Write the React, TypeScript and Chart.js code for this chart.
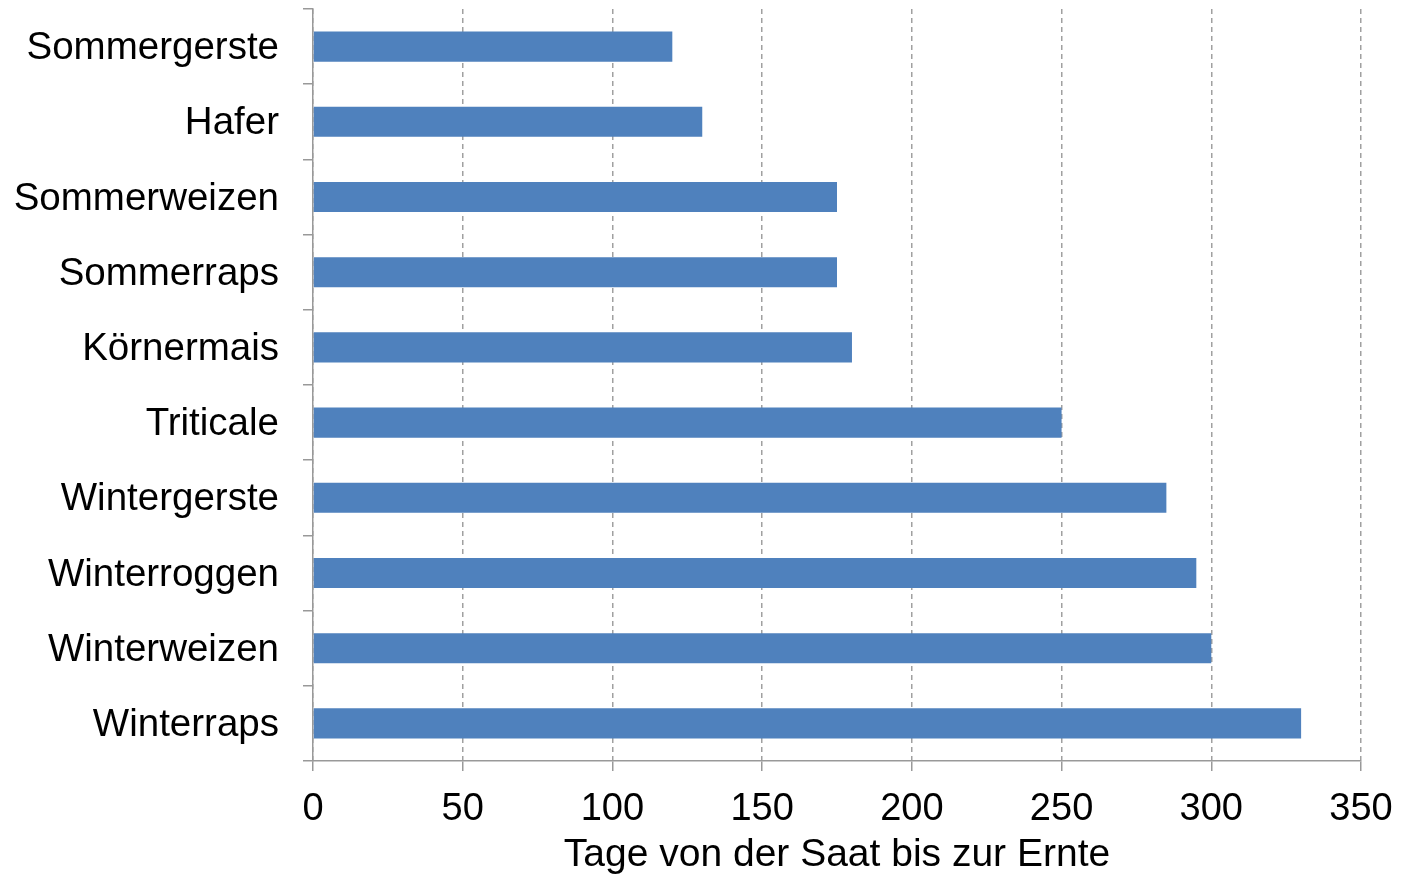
import React, { useEffect, useRef } from "react";
import { Chart, registerables } from "chart.js";

Chart.register(...registerables);

const categories = [
  "Sommergerste",
  "Hafer",
  "Sommerweizen",
  "Sommerraps",
  "Körnermais",
  "Triticale",
  "Wintergerste",
  "Winterroggen",
  "Winterweizen",
  "Winterraps",
];
const days = [120, 130, 175, 175, 180, 250, 285, 295, 300, 330];
const xTitle = "Tage von der Saat bis zur Ernte";
const xMin = 0;
const xMax = 350;
const xStep = 50;

const FONT = "'Liberation Sans', Arial, sans-serif";

export default function App() {
  const ref = useRef<HTMLCanvasElement | null>(null);

  useEffect(() => {
    if (!ref.current) return;
    const chart = new Chart(ref.current, {
      type: "bar",
      data: {
        labels: categories,
        datasets: [
          {
            data: days,
            backgroundColor: "#4F81BD",
            borderWidth: 0,
            categoryPercentage: 1,
            barPercentage: 0.4,
          },
        ],
      },
      options: {
        indexAxis: "y",
        animation: false,
        responsive: true,
        maintainAspectRatio: false,
        layout: { padding: { top: 9, right: 40, left: 0, bottom: 0 } },
        plugins: { legend: { display: false }, tooltip: { enabled: false } },
        scales: {
          x: {
            min: xMin,
            max: xMax,
            ticks: {
              stepSize: xStep,
              color: "#000",
              font: { family: FONT, size: 38 },
              padding: 16,
              maxRotation: 0,
            },
            grid: {
              color: "#a0a0a0",
              lineWidth: 1.5,
              tickLength: 10,
              tickColor: "#999999",
              tickWidth: 1.5,
              tickBorderDash: [],
            },
            border: { display: true, color: "#999999", width: 1.5, dash: [5, 4] },
            title: {
              display: true,
              text: xTitle,
              color: "#000",
              font: { family: FONT, size: 39 },
              padding: { top: 0, bottom: 0 },
            },
            afterFit: (scale: any) => {
              scale.height = 118;
              scale.paddingLeft = 0;
              scale.paddingRight = 0;
            },
          },
          y: {
            ticks: {
              color: "#000",
              font: { family: FONT, size: 38.5 },
              padding: 24,
              labelOffset: 2,
            },
            grid: {
              offset: true,
              drawOnChartArea: false,
              tickLength: 10,
              color: "#999999",
              tickColor: "#999999",
              lineWidth: 1.5,
              tickWidth: 1.5,
            },
            border: { display: true, color: "#999999", width: 1.5 },
            afterFit: (scale: any) => {
              scale.width = 313;
              scale.paddingTop = 0;
              scale.paddingBottom = 0;
            },
          },
        },
      },
    });
    return () => chart.destroy();
  }, []);

  return (
    <div style={{ position: "absolute", left: 0, top: 0, width: 1401, height: 879 }}>
      <canvas ref={ref} />
    </div>
  );
}
